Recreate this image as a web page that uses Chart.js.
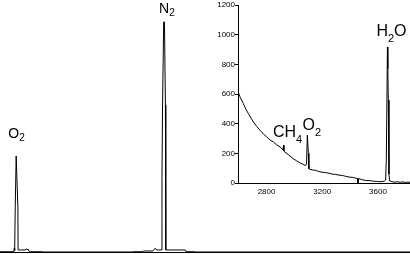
<!DOCTYPE html>
<html>
<head>
<meta charset="utf-8">
<script src="https://cdn.jsdelivr.net/npm/chart.js@4.4.0/dist/chart.umd.min.js"></script>
<style>
    html, body { margin: 0; padding: 0; background: #fff; }
    #wrap { position: relative; width: 410px; height: 254px; }
    #main { position: absolute; left: 0; top: 0; }
    #inset { position: absolute; left: 200px; top: 0; }
</style>
</head>
<body>
<div id="wrap">
    <canvas id="main" width="410" height="254"></canvas>
    <canvas id="inset" width="210" height="200"></canvas>
</div>
<script>
(function () {
    "use strict";

    // main spectrum (shift, intensity)
    const mainShift = [1467, 1530, 1540, 1542, 1544, 1547, 1552, 1555, 1561, 1562, 1575, 1598, 1609, 1614, 1625, 1688, 1693,
        2160, 2166, 2218, 2220, 2270, 2282, 2290, 2300, 2316, 2318, 2321, 2327, 2331, 2336, 2338, 2360, 2440, 2445, 2490, 2495, 3621];
    const mainValue = [1, 1, 2, 15, 6, 175, 381, 381, 175, 8, 8, 8, 12, 8, 1, 1, 0,
        0, 1, 1, 4, 4, 15, 8, 8, 8, 300, 583, 913, 913, 583, 8, 8, 8, 1, 1, 0, 0];
    const mainLabelText = ["O_2", "N_2"];
    const mainLabelShift = [1553, 2329];
    const mainLabelValue = [381, 913];

    // inset spectrum
    const insetShift = [2595, 2612, 2633, 2650, 2669, 2688, 2705, 2730, 2753, 2778, 2801, 2825, 2849, 2872, 2897, 2912, 2918,
        2922, 2925, 2932, 2947, 2968, 2990, 3015, 3040, 3060, 3076, 3087, 3093, 3096, 3100, 3104, 3112, 3130, 3152, 3175,
        3200, 3225, 3248, 3272, 3296, 3320, 3344, 3368, 3392, 3416, 3440, 3452, 3456, 3460, 3480, 3512, 3540, 3568, 3596,
        3620, 3645, 3655, 3660, 3668, 3671, 3674, 3679, 3684, 3700, 3720, 3740, 3760, 3780, 3800, 3815, 3830];
    const insetValue = [616, 575, 537, 500, 469, 438, 412, 380, 356, 330, 311, 290, 277, 258, 243, 230, 222,
        255, 215, 208, 198, 182, 165, 150, 135, 127, 118, 125, 322, 322, 200, 96, 92, 88, 85, 78,
        72, 70, 66, 60, 58, 53, 51, 45, 40, 38, 33, 31, 0, 30, 24, 17, 16, 12, 10,
        9, 12, 20, 160, 917, 770, 560, 60, 14, 9, 6, 8, 5, 7, 4, 6, 5];
    const insetTicksX = [2800, 3200, 3600];
    const insetLabelText = ["CH_4", "O_2", "H_2O"];
    const insetLabelShift = [2925, 3094, 3668];
    const insetLabelValue = [255, 322, 917];

    const tickFont = "'Liberation Sans Narrow', 'Liberation Sans', Arial, sans-serif";
    const labelFont = "'Liberation Sans', Arial, sans-serif";

    function points(xs, ys) {
        return xs.map((x, i) => ({ x: x, y: ys[i] }));
    }

    // draws "O_2" style labels with a subscript character
    const peakLabels = {
        id: "peakLabels",
        afterDatasetsDraw(chart, args, opts) {
            const ctx = chart.ctx;
            const xs = chart.scales.x, ys = chart.scales.y;
            ctx.save();
            ctx.fillStyle = "#000";
            ctx.textBaseline = "alphabetic";
            ctx.textAlign = "left";
            opts.text.forEach((t, i) => {
                let px = xs.getPixelForValue(opts.shift[i]) + opts.offsets[i][0];
                const py = ys.getPixelForValue(opts.value[i]) + opts.offsets[i][1];
                for (let k = 0; k < t.length; k++) {
                    let ch = t[k], sub = false;
                    if (ch === "_") { ch = t[++k]; sub = true; }
                    ctx.font = (sub ? opts.subSize : opts.size) + "px " + labelFont;
                    ctx.fillText(ch, px, py + (sub ? opts.subDrop : 0));
                    px += ctx.measureText(ch).width;
                }
            });
            ctx.restore();
        },
    };

    new Chart(document.getElementById("main").getContext("2d"), {
        type: "line",
        data: {
            datasets: [{
                data: points(mainShift, mainValue),
                borderColor: "#000",
                borderWidth: 1,
                pointRadius: 0,
                tension: 0,
            }],
        },
        options: {
            responsive: false,
            animation: false,
            layout: { padding: 0 },
            plugins: {
                legend: { display: false },
                tooltip: { enabled: false },
                peakLabels: {
                    text: mainLabelText,
                    shift: mainLabelShift,
                    value: mainLabelValue,
                    offsets: [[-8, -18], [-5, -9]],
                    size: 14,
                    subSize: 10,
                    subDrop: 3,
                },
            },
            scales: {
                x: {
                    type: "linear",
                    min: 1467,
                    max: 3621,
                    ticks: { display: false },
                    grid: { display: false },
                    border: { display: true, color: "#000", width: 1 },
                    afterFit(s) { s.height = 2; },
                },
                y: { display: false, min: 0, max: 1000 },
            },
        },
        plugins: [peakLabels],
    });

    new Chart(document.getElementById("inset").getContext("2d"), {
        type: "line",
        data: {
            datasets: [{
                data: points(insetShift, insetValue),
                borderColor: "#000",
                borderWidth: 1,
                pointRadius: 0,
                tension: 0,
            }],
        },
        options: {
            responsive: false,
            animation: false,
            layout: { padding: { top: 5, right: 0, bottom: 0, left: 0 } },
            plugins: {
                legend: { display: false },
                tooltip: { enabled: false },
                peakLabels: {
                    text: insetLabelText,
                    shift: insetLabelShift,
                    value: insetLabelValue,
                    offsets: [[-11, -8], [-5, -5], [-11, -11]],
                    size: 16,
                    subSize: 11,
                    subDrop: 6,
                },
            },
            scales: {
                x: {
                    type: "linear",
                    min: 2595,
                    max: 3830,
                    afterBuildTicks(s) { s.ticks = insetTicksX.map(v => ({ value: v })); },
                    ticks: {
                        color: "#000",
                        font: { size: 8, family: tickFont },
                        padding: 4,
                        maxRotation: 0,
                        autoSkip: false,
                        callback: v => String(v),
                    },
                    grid: { drawOnChartArea: false, drawTicks: false },
                    border: { display: true, color: "#000", width: 1 },
                    afterFit(s) { s.height = 17; },
                },
                y: {
                    min: 0,
                    max: 1200,
                    ticks: {
                        stepSize: 200,
                        color: "#000",
                        font: { size: 8, family: tickFont },
                        padding: 0,
                        callback: v => String(v),
                    },
                    grid: { drawOnChartArea: false, drawTicks: true, tickLength: 3, color: "#000" },
                    border: { display: true, color: "#000", width: 1 },
                    afterFit(s) { s.width = 38; },
                },
            },
        },
        plugins: [peakLabels],
    });
})();
</script>
</body>
</html>
